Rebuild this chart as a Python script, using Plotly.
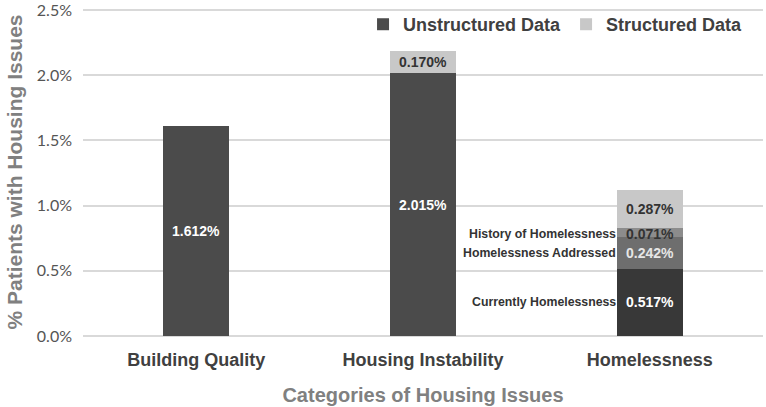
import plotly.graph_objects as go

categories = ["Building Quality", "Housing Instability", "Homelessness"]
unstructured_cats = ["Building Quality", "Housing Instability"]
unstructured_vals = [1.612, 2.015]
home_current = 0.517
home_addressed = 0.242
home_history = 0.071
structured_cats = ["Housing Instability", "Homelessness"]
structured_vals = [0.170, 0.287]
sub_labels = ["Currently Homelessness", "Homelessness Addressed", "History of Homelessness"]
y_ticks = [0.0, 0.5, 1.0, 1.5, 2.0, 2.5]

FONT = "Liberation Sans"
W = 0.29
fig = go.Figure()
fig.add_bar(x=unstructured_cats, y=unstructured_vals, name="<b>Unstructured Data</b>",
            marker=dict(color="#4b4b4b", line=dict(width=0)), width=W)
fig.add_bar(x=["Homelessness"], y=[home_current], showlegend=False,
            marker=dict(color="#383838", line=dict(width=0)), width=W)
fig.add_bar(x=["Homelessness"], y=[home_addressed], showlegend=False,
            marker=dict(color="#6e6e6e", line=dict(width=0)), width=W)
fig.add_bar(x=["Homelessness"], y=[home_history], showlegend=False,
            marker=dict(color="#8c8c8c", line=dict(width=0)), width=W)
fig.add_bar(x=structured_cats, y=structured_vals, name="<b>Structured Data</b>",
            marker=dict(color="#c8c8c8", line=dict(width=0)), width=W)

ann = []
def lab(x, y, txt, color):
    ann.append(dict(x=x, y=y, xref="x", yref="y", text="<b>%s</b>" % txt, showarrow=False,
                    font=dict(family=FONT, size=14, color=color)))

lab("Building Quality", unstructured_vals[0] / 2, "%.3f%%" % unstructured_vals[0], "white")
lab("Housing Instability", unstructured_vals[1] / 2, "%.3f%%" % unstructured_vals[1], "white")
lab("Housing Instability", unstructured_vals[1] + structured_vals[0] / 2, "%.3f%%" % structured_vals[0], "#333333")
lab("Homelessness", home_current / 2, "%.3f%%" % home_current, "white")
lab("Homelessness", home_current + home_addressed / 2, "%.3f%%" % home_addressed, "#e6e6e6")
lab("Homelessness", home_current + home_addressed + home_history / 2 - 0.012, "%.3f%%" % home_history, "#333333")
lab("Homelessness", home_current + home_addressed + home_history + structured_vals[1] / 2, "%.3f%%" % structured_vals[1], "#333333")

sub_y = [home_current / 2, home_current + home_addressed / 2, home_current + home_addressed + home_history / 2 - 0.012]
for t, yy in zip(sub_labels, sub_y):
    ann.append(dict(x="Homelessness", y=yy, xref="x", yref="y", text="<b>%s</b>" % t, showarrow=False,
                    xanchor="right", xshift=-32,
                    font=dict(family=FONT, size=12.3, color="#333333")))

fig.update_layout(
    width=766, height=407,
    margin=dict(l=83, r=3, t=8, b=71, autoexpand=False),
    paper_bgcolor="white", plot_bgcolor="white",
    barmode="stack",
    annotations=ann,
    legend=dict(orientation="h", x=0.978, y=1.006, xanchor="right", yanchor="top",
                font=dict(family=FONT, size=18, color="#404040"),
                bgcolor="rgba(0,0,0,0)", itemwidth=30, traceorder="normal"),
    xaxis=dict(categoryorder="array", categoryarray=categories,
               tickvals=categories, ticktext=["<b>%s</b>" % c for c in categories],
               tickfont=dict(family=FONT, size=18, color="#404040"),
               ticklabelstandoff=11, automargin=False,
               title=dict(text="<b>Categories of Housing Issues</b>", standoff=18,
                          font=dict(family=FONT, size=20, color="#808080")),
               showline=False, ticks=""),
    yaxis=dict(range=[0, 2.515], tickmode="array", tickvals=y_ticks,
               ticktext=["%.1f%%" % v for v in y_ticks],
               tickfont=dict(family="Lato", size=16, color="#555555"),
               ticklabeloverflow="allow",
               showgrid=True, gridcolor="#d9d9d9", gridwidth=1.5, zeroline=True,
               zerolinecolor="#d9d9d9", zerolinewidth=1.5,
               ticks="", ticklabelstandoff=10, automargin=False,
               title=dict(text="<b>% Patients with Housing Issues</b>", standoff=8,
                          font=dict(family=FONT, size=21, color="#808080"))),
)
fig.write_html("out.html", config={"displayModeBar": False},
               post_script="document.body.style.margin='0';")
